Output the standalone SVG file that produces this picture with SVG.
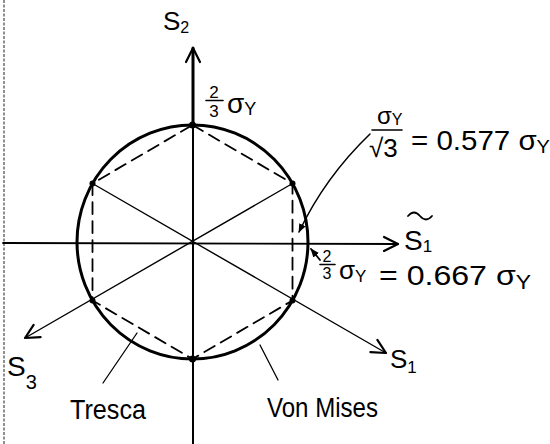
<svg xmlns="http://www.w3.org/2000/svg" width="550" height="444" viewBox="0 0 550 444">
<style>
.ln{stroke:#000;fill:none;stroke-linecap:round;stroke-linejoin:round}
.t{font-family:"Liberation Sans","DejaVu Sans",sans-serif;fill:#000}
</style>
<defs>
<marker id="arr" viewBox="0 0 18 18" refX="16" refY="9" markerWidth="18" markerHeight="18" markerUnits="userSpaceOnUse" orient="auto">
<path d="M2,2 L16,9 L2,16" fill="none" stroke="#000" stroke-width="2.2" stroke-linecap="round" stroke-linejoin="round"/>
</marker>
<marker id="tip" viewBox="0 0 10 10" refX="9" refY="5" markerWidth="9" markerHeight="9" markerUnits="userSpaceOnUse" orient="auto">
<path d="M0,1 L10,5 L0,9 Z" fill="#000"/>
</marker>
</defs>
<rect width="550" height="444" fill="#fff"/>
<line x1="4" y1="0" x2="4" y2="444" stroke="#555" stroke-width="1.3" stroke-dasharray="3 1.5"/>
<g id="connectors">
<line id="axis-s2" class="ln" x1="193" y1="444" x2="193" y2="48" stroke-width="2" marker-end="url(#arr)"/>
<line class="ln" x1="193" y1="48" x2="193" y2="125" stroke-width="3"/>
<line id="axis-s1t" class="ln" x1="3" y1="243" x2="398" y2="244" stroke-width="1.8" marker-end="url(#arr)"/>
<line id="axis-s1" class="ln" x1="92.5" y1="183.5" x2="386" y2="353" stroke-width="1.4" marker-end="url(#arr)"/>
<line id="axis-s3" class="ln" x1="292.5" y1="183.5" x2="25" y2="338" stroke-width="1.4" marker-end="url(#arr)"/>
<path class="ln" d="M370,134 C345,158 318,192 299,232" stroke-width="1.5" marker-end="url(#tip)"/>
<line class="ln" x1="320" y1="260" x2="311" y2="249" stroke-width="1.8" marker-end="url(#tip)"/>
<line class="ln" x1="103" y1="383" x2="137" y2="333" stroke-width="1.3"/>
<line class="ln" x1="278" y1="380" x2="260" y2="345" stroke-width="1.3"/>
</g>
<g id="vonmises">
<ellipse class="ln" cx="192.5" cy="242" rx="115.5" ry="117" stroke-width="3"/>
</g>
<g id="tresca">
<polygon class="ln" points="192.5,125 292.5,183.5 292.5,300.5 192.5,359 92.5,300.5 92.5,183.5" stroke-width="1.8" stroke-dasharray="12 7"/>
</g>
<g id="vertices" fill="#000">
<circle cx="192.5" cy="125" r="3.5"/>
<circle cx="292.5" cy="183.5" r="3"/>
<circle cx="292.5" cy="300.5" r="3"/>
<circle cx="192.5" cy="359" r="3.5"/>
<circle cx="92.5" cy="300.5" r="3"/>
<circle cx="92.5" cy="183.5" r="3"/>
</g>
<g id="label-s2">
<text class="t" x="163" y="30" font-size="26">S<tspan font-size="16" dy="3">2</tspan></text>
</g>
<g id="label-top">
<text class="t" x="214" y="98" font-size="17" text-anchor="middle">2</text>
<line class="ln" x1="206" y1="100.5" x2="223" y2="100.5" stroke-width="1.6"/>
<text class="t" x="214" y="117" font-size="17" text-anchor="middle">3</text>
<text class="t" x="227" y="113" font-size="28">σ<tspan font-size="18" dy="2">Y</tspan></text>
</g>
<g id="label-0577">
<text class="t" x="377" y="124" font-size="24">σ<tspan font-size="16" dy="1">Y</tspan></text>
<line class="ln" x1="372" y1="130" x2="402" y2="130" stroke-width="1.6"/>
<text class="t" x="369" y="157" font-size="26">√3</text>
<text class="t" x="411" y="150" font-size="28" textLength="139" lengthAdjust="spacingAndGlyphs">= 0.577 σ<tspan font-size="19" dy="3">Y</tspan></text>
</g>
<g id="label-s1t">
<path class="ln" d="M408,216 q6,-7 12,0 t12,0" stroke-width="1.8"/>
<text class="t" x="404" y="250" font-size="28">S<tspan font-size="17" dy="2">1</tspan></text>
</g>
<g id="label-0667">
<text class="t" x="327" y="262" font-size="16" text-anchor="middle">2</text>
<line class="ln" x1="320" y1="264.5" x2="335" y2="264.5" stroke-width="1.6"/>
<text class="t" x="327" y="279" font-size="16" text-anchor="middle">3</text>
<text class="t" x="339" y="279" font-size="26">σ<tspan font-size="17" dy="3">Y</tspan></text>
<text class="t" x="379" y="285" font-size="28" textLength="152" lengthAdjust="spacingAndGlyphs">= 0.667 σ<tspan font-size="20" dy="4">Y</tspan></text>
</g>
<g id="label-s3">
<text class="t" x="7" y="376" font-size="28">S<tspan font-size="20" dy="13" dx="0">3</tspan></text>
</g>
<g id="label-s1">
<text class="t" x="390" y="368" font-size="26">S<tspan font-size="17" dy="5">1</tspan></text>
</g>
<g id="label-tresca">
<text class="t" x="70" y="419" font-size="27" textLength="76" lengthAdjust="spacingAndGlyphs">Tresca</text>
</g>
<g id="label-vonmises">
<text class="t" x="267" y="417" font-size="27" textLength="111" lengthAdjust="spacingAndGlyphs">Von Mises</text>
</g>
</svg>
